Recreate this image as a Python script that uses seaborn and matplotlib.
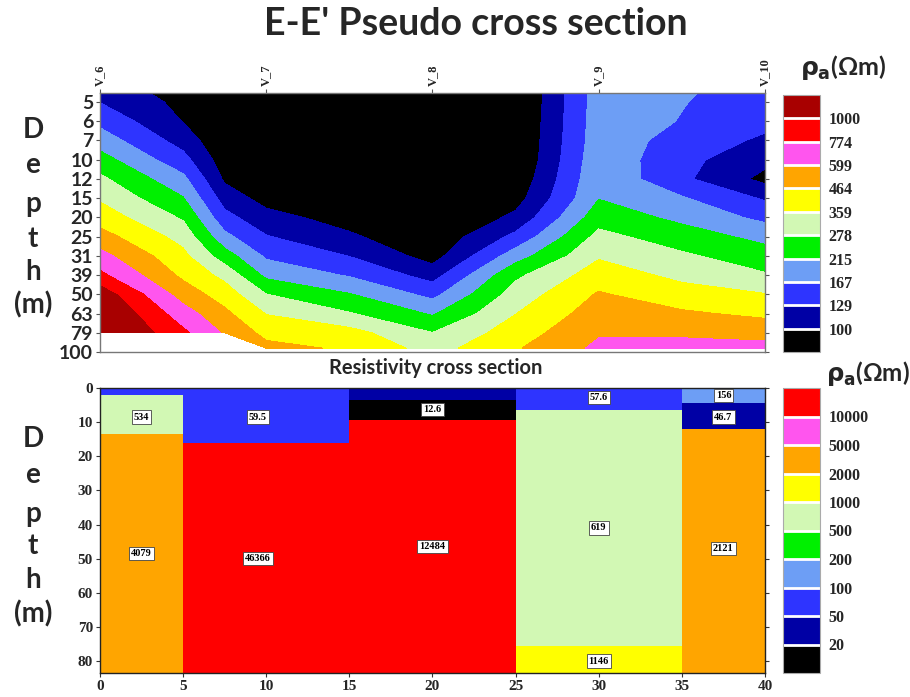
import numpy as np
import matplotlib
matplotlib.use("Agg")
import matplotlib.pyplot as plt
from matplotlib.colors import ListedColormap, BoundaryNorm
from matplotlib.cm import ScalarMappable
import seaborn as sns

# ---------------- pseudo section (apparent resistivity, ohm-m) ----------------
stations = ["V_6", "V_7", "V_8", "V_9", "V_10"]
depth_labels = [5, 6, 7, 10, 12, 15, 20, 25, 31, 39, 50, 63, 79, 100]
grid_x = [0, 0.5, 0.75, 1, 1.5, 2, 2.5, 3, 3.5, 4]                # station index
grid_rows = [-0.47, 0, 1, 2, 3, 4, 5, 6, 7, 8, 9, 10, 11, 12, 12.8]  # pseudo-depth row
nan = np.nan
rho_pseudo = [
    [117,   90,  72,  60,  53,  46,  74, 190, 171, 151],
    [128,   93,  72,  60,  53,  46,  74, 190, 169, 145],
    [156,   99,  75,  63,  56,  49,  75, 192, 165, 139],
    [191,  116,  80,  68,  60,  51,  76, 194, 151, 123],
    [238,  141,  87,  75,  66,  56,  77, 200, 139, 107],
    [293,  178,  96,  83,  74,  60,  82, 205, 136,  93],
    [347,  218, 115,  91,  82,  66,  90, 213, 171, 125],
    [413,  269, 140, 109,  90,  74, 106, 248, 202, 156],
    [513,  327, 179, 131, 104,  82, 138, 300, 242, 200],
    [652,  383, 242, 160, 128,  90, 191, 348, 290, 240],
    [821,  439, 333, 202, 163, 116, 264, 408, 337, 285],
    [1166, 534, 411, 279, 218, 155, 311, 476, 398, 363],
    [1359, 671, 492, 355, 283, 209, 357, 527, 482, 439],
    [1468, 815, 580, 430, 394, 279, 408, 584, 577, 548],
    [nan,  nan, nan, 501, 447, 324, 452, 631, 647, 647],
]
top_bounds = [1, 100, 129, 167, 215, 278, 359, 464, 599, 774, 1000, 1e5]
top_palette = sns.color_palette(["#000000", "#0000A5", "#2E34FF", "#6D9EF5", "#00F000",
                                 "#D2F8B4", "#FFFF00", "#FFA500", "#FF55EE", "#FF0000",
                                 "#A80000"])

# ---------------- layered resistivity model ----------------
layer_x0 = [0, 0, 0, 5, 5, 15, 15, 15, 25, 25, 25, 35, 35, 35]
layer_w = [5, 5, 5, 10, 10, 10, 10, 10, 10, 10, 10, 5, 5, 5]
layer_top = [0, 2, 13.5, 0, 16, 0, 3.5, 9.5, 0, 6.5, 75.5, 0, 4.5, 12]
layer_bot = [2, 13.5, 83.5, 16, 83.5, 3.5, 9.5, 83.5, 6.5, 75.5, 83.5, 4.5, 12, 83.5]
layer_rho = [60, 534, 4079, 59.5, 46366, 35, 12.6, 12484, 57.6, 619, 1146, 156, 46.7, 2121]
label_x = [None, 2.5, 2.5, 9.5, 9.5, None, 20, 20, 30, 30, 30, 37.5, 37.5, 37.5]
label_depth = [None, 8.5, 48.5, 8.5, 50, None, 6.4, 46.5, 2.9, 41, 80, 2.3, 8.5, 47]
bot_bounds = [1, 20, 50, 100, 200, 500, 1000, 2000, 5000, 10000, 1e6]
bot_palette = sns.color_palette(["#000000", "#0000A5", "#2E34FF", "#6D9EF5", "#00F000",
                                 "#D2F8B4", "#FFFF00", "#FFA500", "#FF55EE", "#FF0000"])

# ---------------- style ----------------
sns.set_theme(style="white")
plt.rcParams["font.family"] = ["Lato", "DejaVu Sans"]
plt.rcParams["mathtext.fontset"] = "custom"
plt.rcParams["mathtext.rm"] = "DejaVu Sans:bold"
plt.rcParams["mathtext.it"] = "DejaVu Sans:bold"
plt.rcParams["mathtext.bf"] = "DejaVu Sans:bold"
serif = ["Liberation Serif", "DejaVu Serif"]

W, H = 910, 697
fig = plt.figure(figsize=(W / 100, H / 100), dpi=100)


def frame(l, t, r, b):
    return [l / W, 1 - b / H, (r - l) / W, (b - t) / H]


ax_top = fig.add_axes(frame(100, 93, 765, 352))
ax_bot = fig.add_axes(frame(100, 388, 765, 673))
cax_top = fig.add_axes(frame(783, 95, 820, 352))
cax_bot = fig.add_axes(frame(783, 388, 820, 673))

# ---- pseudo section contours ----
Z = np.ma.masked_invalid(np.array(rho_pseudo, dtype=float))
ax_top.contourf(grid_x, grid_rows, np.log10(Z), levels=np.log10(top_bounds),
                colors=top_palette, antialiased=False)
ax_top.set_xlim(0, 4)
ax_top.set_ylim(13, -0.47)
ax_top.xaxis.tick_top()
ax_top.set_xticks(range(len(stations)))
ax_top.set_xticklabels(stations, rotation=90, fontfamily=serif, fontsize=9,
                       fontweight="bold")
ax_top.set_yticks(range(len(depth_labels)))
ax_top.set_yticklabels([str(d) for d in depth_labels], fontsize=14, fontweight="bold")
ax_top.tick_params(axis="x", top=True, bottom=False, length=3, width=0.8,
                   color="#555555", pad=2)
ax_top.tick_params(axis="y", left=True, right=True, length=3, width=0.8,
                   color="#555555", pad=2)
for s in ax_top.spines.values():
    s.set_color("#777777")
    s.set_linewidth(1.0)

# ---- layered model blocks ----
bot_cmap = ListedColormap(bot_palette)
bot_norm = BoundaryNorm(bot_bounds, bot_cmap.N)
heights = [b - t for t, b in zip(layer_top, layer_bot)]
ax_bot.bar(layer_x0, heights, width=layer_w, bottom=layer_top, align="edge",
           color=[bot_cmap(bot_norm(v)) for v in layer_rho], edgecolor="none",
           linewidth=0)
for v, lx, ld in zip(layer_rho, label_x, label_depth):
    if lx is None:
        continue
    ax_bot.text(lx, ld, f"{v:g}", ha="center", va="center", fontsize=7.5,
                fontfamily=serif, fontweight="bold", color="black",
                bbox=dict(boxstyle="square,pad=0.2", fc="white", ec="#444444", lw=0.6))
ax_bot.set_xlim(0, 40)
ax_bot.set_ylim(83.5, 0)
ax_bot.set_xticks(range(0, 41, 5))
ax_bot.set_yticks(range(0, 81, 10))
for lab in ax_bot.get_xticklabels() + ax_bot.get_yticklabels():
    lab.set_fontfamily(serif)
    lab.set_fontweight("bold")
    lab.set_fontsize(11)
ax_bot.tick_params(axis="both", bottom=True, left=True, right=True, length=3,
                   width=0.8, color="#333333", pad=2)
for s in ax_bot.spines.values():
    s.set_color("#222222")
    s.set_linewidth(1.0)

# ---- colour bars ----
top_cmap = ListedColormap(top_palette)
top_norm = BoundaryNorm(top_bounds, top_cmap.N)
for cax, cmap, norm, bounds in [(cax_top, top_cmap, top_norm, top_bounds),
                                (cax_bot, bot_cmap, bot_norm, bot_bounds)]:
    cb = fig.colorbar(ScalarMappable(norm=norm, cmap=cmap), cax=cax,
                      spacing="uniform", drawedges=True, ticks=bounds[1:-1])
    cb.ax.minorticks_off()
    cb.ax.set_yticklabels([f"{b:g}" for b in bounds[1:-1]])
    cb.ax.tick_params(which="both", length=0, pad=6)
    for lab in cb.ax.get_yticklabels():
        lab.set_fontfamily(serif)
        lab.set_fontweight("bold")
        lab.set_fontsize(11.5)
    cb.dividers.set_color("white")
    cb.dividers.set_linewidth(2)
    cb.outline.set_edgecolor("#aaaaaa")
    cb.outline.set_linewidth(0.8)

# ---- titles and axis captions ----
fig.text(476 / W, 1 - 24 / H, "E-E' Pseudo cross section", ha="center", va="center",
         fontsize=27, fontweight="bold")
fig.text(436 / W, 1 - 368 / H, "Resistivity cross section", ha="center", va="center",
         fontsize=14.5, fontweight="bold")
fig.text(800 / W, 1 - 68 / H, r"$\rho_{a}$(Ωm)", ha="left", va="center",
         fontsize=18, fontweight="bold")
fig.text(826 / W, 1 - 374 / H, r"$\rho_{a}$(Ωm)", ha="left", va="center",
         fontsize=17.5, fontweight="bold")

caption = ["D", "e", "p", "t", "h", "(m)"]
for centers in ([130, 165, 204, 239, 272, 305], [439, 475, 514, 546, 580, 614]):
    for ch, yc in zip(caption, centers):
        fig.text(33 / W, 1 - yc / H, ch, ha="center", va="center",
                 fontsize=20, fontweight="bold")

fig.savefig("out.png", dpi=100)
